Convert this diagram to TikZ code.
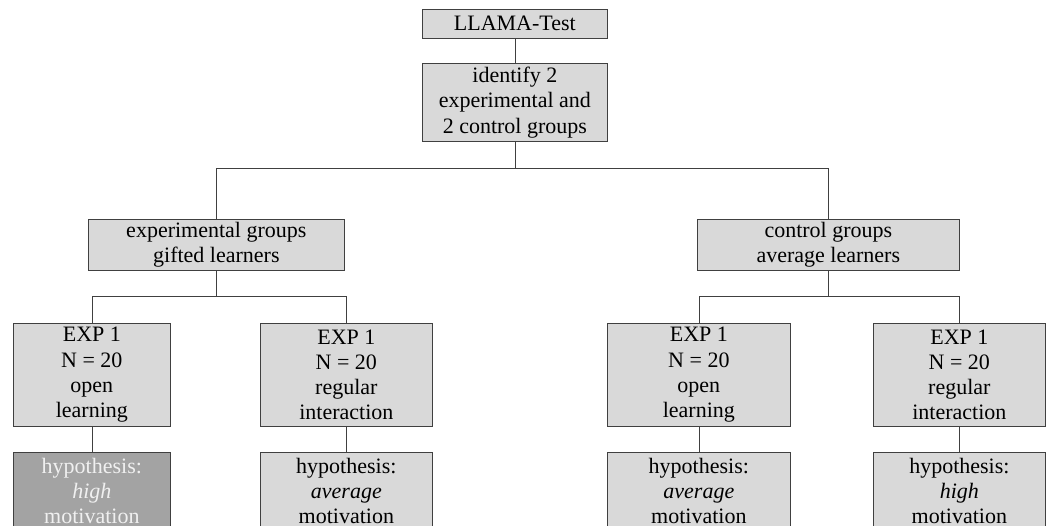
\documentclass[tikz,border=0pt]{standalone}
\usepackage{fontspec}
\setmainfont{Liberation Serif}
\begin{document}
\begin{tikzpicture}[x=1pt,y=-1pt,
  box/.style={draw=black!75, line width=0.7pt, fill=boxgray, inner sep=0pt, align=center,
    font=\fontsize{22}{25.3}\selectfont, anchor=north west},
  darkbox/.style={box, fill=darkgray!100, text=lighttext},
  conn/.style={draw=black!75, line width=0.7pt}]
\definecolor{boxgray}{HTML}{D9D9D9}
\definecolor{darkgray}{HTML}{A3A3A3}
\definecolor{lighttext}{HTML}{F0F0F0}
\useasboundingbox (0,0) rectangle (1046,526);
\clip (0,0) rectangle (1046,526);
% nodes
\node[box, minimum width=185pt, minimum height=29pt] (llama) at (422,9) {LLAMA-Test};
\node[box, minimum width=185pt, minimum height=78pt] (ident) at (422,63) {identify 2\\experimental and\\2 control groups};
\node[box, minimum width=256pt, minimum height=51pt] (gexp) at (88,219) {experimental groups\\gifted learners};
\node[box, minimum width=262pt, minimum height=51pt] (gctl) at (697,219) {control groups\\average learners};
\node[box, minimum width=157pt, minimum height=103pt] (e1) at (13,323) {EXP 1\\N = 20\\open\\learning};
\node[box, minimum width=172pt, minimum height=103pt] (e2) at (260,323) {EXP 1\\N = 20\\regular\\interaction};
\node[box, minimum width=183pt, minimum height=103pt] (e3) at (607,323) {EXP 1\\N = 20\\open\\learning};
\node[box, minimum width=172pt, minimum height=103pt] (e4) at (873,323) {EXP 1\\N = 20\\regular\\interaction};
\node[darkbox, minimum width=157pt, minimum height=110pt, anchor=north] (h1) at (e1.south |- 0,452) {hypothesis:\\\textit{high}\\motivation\\\strut};
\node[box, minimum width=172pt, minimum height=110pt, anchor=north] (h2) at (e2.south |- 0,452) {hypothesis:\\\textit{average}\\motivation\\\strut};
\node[box, minimum width=183pt, minimum height=110pt, anchor=north] (h3) at (e3.south |- 0,452) {hypothesis:\\\textit{average}\\motivation\\\strut};
\node[box, minimum width=172pt, minimum height=110pt, anchor=north] (h4) at (e4.south |- 0,452) {hypothesis:\\\textit{high}\\motivation\\\strut};
% connectors
\path[conn] (llama.south) -- (ident.north);
\coordinate (j0) at (ident.south |- 0,168);
\path[conn] (ident.south) -- (j0);
\path[conn] (j0) -| (gexp.north);
\path[conn] (j0) -| (gctl.north);
\coordinate (j1) at (gexp.south |- 0,296);
\coordinate (j2) at (gctl.south |- 0,296);
\path[conn] (gexp.south) -- (j1);
\path[conn] (j1) -| (e1.north);
\path[conn] (j1) -| (e2.north);
\path[conn] (gctl.south) -- (j2);
\path[conn] (j2) -| (e3.north);
\path[conn] (j2) -| (e4.north);
\path[conn] (e1.south) -- (h1.north);
\path[conn] (e2.south) -- (h2.north);
\path[conn] (e3.south) -- (h3.north);
\path[conn] (e4.south) -- (h4.north);
\end{tikzpicture}
\end{document}
